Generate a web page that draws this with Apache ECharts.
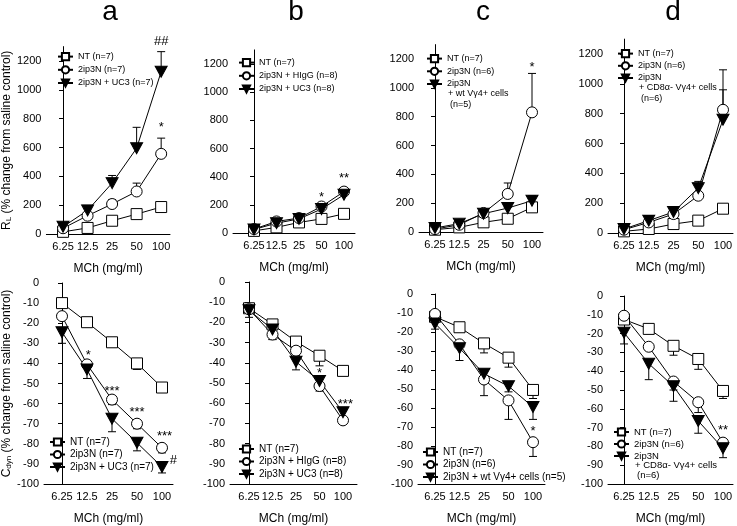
<!DOCTYPE html>
<html>
<head>
<meta charset="utf-8">
<script src="https://cdn.jsdelivr.net/npm/echarts@6/dist/echarts.min.js"></script>
<style>
  html, body { margin: 0; background: #fff; }
  #chart { width: 737px; height: 526px; }
</style>
</head>
<body>
<div id="chart"></div>
<script>
// dose categories (MCh, mg/ml)
var doses = ['6.25', '12.5', '25', '50', '100'];
var rlTicks = [0, 200, 400, 600, 800, 1000, 1200];
var cdynTicks = [0, -10, -20, -30, -40, -50, -60, -70, -80, -90, -100];

// ---- R_L panels (top row), mean and top of error bar ----
var rlA_nt = [15, 42, 92, 138, 187];       var rlA_ntErr = [18, 46, 98, 145, 195];
var rlA_ip = [40, 127, 208, 295, 556];     var rlA_ipErr = [50, 140, 238, 353, 665];
var rlA_uc = [50, 164, 353, 595, 1126];    var rlA_ucErr = [60, 175, 406, 740, 1265];
var rlA_marks = [[4, 740, '*'], [4, 1335, '##']];

var rlB_nt = [15, 40, 75, 100, 136];       var rlB_ntErr = [18, 44, 80, 106, 142];
var rlB_ig = [28, 82, 106, 188, 294];      var rlB_igErr = [32, 90, 115, 200, 322];
var rlB_uc = [25, 70, 100, 170, 272];      var rlB_ucErr = [30, 78, 108, 180, 300];
var rlB_marks = [[3, 254, '*'], [4, 390, '**']];

var rlC_nt = [16, 32, 67, 92, 171];        var rlC_ntErr = [20, 36, 72, 98, 180];
var rlC_ip = [20, 50, 132, 264, 830];      var rlC_ipErr = [24, 56, 140, 340, 1100];
var rlC_wt = [28, 58, 127, 166, 217];      var rlC_wtErr = [32, 64, 135, 172, 252];
var rlC_marks = [[4, 1140, '*']];

var rlD_nt = [11, 27, 60, 83, 163];        var rlD_ntErr = [14, 30, 64, 88, 170];
var rlD_ip = [22, 71, 127, 250, 826];      var rlD_ipErr = [28, 80, 150, 330, 1094];
var rlD_cd = [27, 83, 141, 301, 759];      var rlD_cdErr = [32, 90, 167, 346, 960];
var rlD_marks = [];

// ---- Cdyn panels (bottom row), mean and bottom of error bar ----
var cdA_nt = [-10, -19.5, -29.5, -40, -52];     var cdA_ntErr = [-11, -21, -31.5, -43, -53.5];
var cdA_ip = [-16.5, -40.5, -58, -70, -82];     var cdA_ipErr = [-18, -42, -60.5, -72.5, -84.5];
var cdA_uc = [-24.5, -43, -67.5, -79.5, -91.5]; var cdA_ucErr = [-30, -47.5, -74, -83.5, -94.5];
var cdA_marks = [[1.05, -36, '*'], [2, -54, '***'], [3, -64.5, '***'], [4.1, -76.5, '***'], [4.45, -88.5, '#']];

var cdB_nt = [-13, -21, -29.5, -36.5, -44];     var cdB_ntErr = [-14, -22.5, -31, -41.5, -46];
var cdB_ig = [-13.5, -26, -34, -51.5, -68.5];   var cdB_igErr = [-15, -28.5, -36, -54, -70.5];
var cdB_uc = [-14, -23.5, -39.5, -49, -64.5];   var cdB_ucErr = [-17.5, -28.5, -43.5, -53, -67];
var cdB_marks = [[3, -45.5, '*'], [4.1, -60.5, '***']];

var cdC_nt = [-12, -17.5, -26, -33.5, -50.5];   var cdC_ntErr = [-14, -19, -31, -38.5, -55];
var cdC_ip = [-10.5, -26.5, -45, -56, -78];     var cdC_ipErr = [-12, -28, -53.5, -66, -85.5];
var cdC_wt = [-15.5, -28.5, -42, -48.5, -59.5]; var cdC_wtErr = [-18.5, -35, -44, -51.5, -66];
var cdC_marks = [[4, -72.5, '*']];

var cdD_nt = [-12.5, -17.5, -26.5, -33.5, -50.5]; var cdD_ntErr = [-14, -19.5, -31.5, -39, -54.5];
var cdD_ip = [-10.5, -27, -45.5, -56.5, -78];     var cdD_ipErr = [-12, -29, -50, -62, -80];
var cdD_cd = [-19.5, -36, -48, -66.5, -81];       var cdD_cdErr = [-25.5, -44.5, -56, -73, -86];
var cdD_marks = [[4, -71.5, '**']];

var FONT = 'Liberation Sans, Arial, sans-serif';

// panel frames: y-axis x, x-axis end, first/last dose x, y of top and bottom of axis
var frames = [
  { ax0: 44,  ax1: 170, c0: 61,  c4: 161, top: 46.6, bot: 234 },
  { ax0: 233, ax1: 355, c0: 254, c4: 344, top: 49.9, bot: 233 },
  { ax0: 419, ax1: 543, c0: 435, c4: 532, top: 44.6, bot: 232 },
  { ax0: 608, ax1: 733, c0: 624, c4: 723, top: 39.1, bot: 233 },
  { ax0: 44,  ax1: 173, c0: 62,  c4: 162, top: 283,  bot: 490 },
  { ax0: 230, ax1: 357, c0: 249, c4: 343, top: 282,  bot: 489 },
  { ax0: 418, ax1: 545, c0: 435, c4: 533, top: 294,  bot: 489 },
  { ax0: 608, ax1: 733, c0: 624, c4: 723, top: 296,  bot: 488 }
];

var grids = [], xAxes = [], yAxes = [];
frames.forEach(function (f, i) {
  var step = (f.c4 - f.c0) / 4;
  var isTop = i < 4;
  grids.push({ left: f.ax0, width: f.ax1 - f.ax0, top: f.top, height: f.bot - f.top });
  xAxes.push({
    gridIndex: i, type: 'value',
    min: -(f.c0 - f.ax0) / step, max: 4 + (f.ax1 - f.c4) / step,
    name: 'MCh (mg/ml)', nameLocation: 'middle', nameGap: 29,
    nameTextStyle: { fontSize: 12, color: '#000', fontFamily: FONT },
    axisLine: { onZero: false, lineStyle: { color: '#000', width: 1 } },
    axisTick: { show: false },
    splitLine: { show: false },
    axisLabel: {
      customValues: [0, 1, 2, 3, 4], margin: 7, fontSize: 11, color: '#000', fontFamily: FONT,
      formatter: function (v) { return doses[Math.round(v)]; }
    }
  });
  var ticks = isTop ? rlTicks : cdynTicks;
  var y = {
    gridIndex: i, type: 'value',
    min: isTop ? 0 : -100, max: isTop ? 1300 : 0,
    axisLine: { show: true, lineStyle: { color: '#000', width: 1 } },
    axisTick: { show: true, length: 4, customValues: ticks, lineStyle: { color: '#000' } },
    splitLine: { show: false },
    axisLabel: { customValues: ticks, margin: 5, fontSize: 11, color: '#000', fontFamily: FONT,
      formatter: function (v) { return String(v); } }
  };
  if (i === 0 || i === 4) {
    y.name = isTop ? 'R{sub|L} (% change from saline control)' : 'C{sub|dyn} (% change from saline control)';
    y.nameLocation = 'middle';
    y.nameRotate = 90;
    y.nameGap = 30;
    y.nameTextStyle = { fontSize: 12, color: '#000', fontFamily: FONT,
      rich: { sub: { fontSize: 8, fontFamily: FONT, color: '#000', padding: [4, 0, 0, 0] } } };
  }
  yAxes.push(y);
});

function lineSeries(name, ax, vals, kind) {
  return {
    type: 'line', name: name, xAxisIndex: ax, yAxisIndex: ax,
    data: vals.map(function (v, i) { return [i, v]; }),
    symbol: kind === 'sq' ? 'rect' : (kind === 'ci' ? 'circle' : 'triangle'),
    symbolSize: kind === 'tri' ? [12, 11] : 11,
    symbolRotate: kind === 'tri' ? 180 : 0,
    showAllSymbol: true, animation: false, z: 3,
    lineStyle: { color: '#000', width: 1 },
    itemStyle: { color: kind === 'tri' ? '#000' : '#fff', borderColor: '#000', borderWidth: 1 },
    emphasis: { disabled: true }
  };
}

function errSeries(ax, vals, ends) {
  return {
    type: 'custom', xAxisIndex: ax, yAxisIndex: ax, silent: true, clip: false, z: 2,
    data: vals.map(function (v, i) { return [i, v, ends[i]]; }),
    encode: { x: 0, y: [1, 2] },
    renderItem: function (params, api) {
      var p0 = api.coord([api.value(0), api.value(1)]);
      var p1 = api.coord([api.value(0), api.value(2)]);
      var st = { stroke: '#000', lineWidth: 1 };
      return { type: 'group', children: [
        { type: 'line', shape: { x1: p0[0], y1: p0[1], x2: p1[0], y2: p1[1] }, style: st },
        { type: 'line', shape: { x1: p1[0] - 4, y1: p1[1], x2: p1[0] + 4, y2: p1[1] }, style: st }
      ] };
    }
  };
}

function markSeries(ax, marks) {
  return {
    type: 'custom', xAxisIndex: ax, yAxisIndex: ax, silent: true, clip: false, z: 4,
    data: marks.map(function (m) { return [m[0], m[1]]; }),
    renderItem: function (params, api) {
      var p = api.coord([api.value(0), api.value(1)]);
      return { type: 'text', x: p[0], y: p[1], style: {
        text: marks[params.dataIndex][2], fill: '#000', font: '13px ' + FONT,
        textAlign: 'center', textVerticalAlign: 'middle' } };
    }
  };
}

var NT = 'NT (n=7)';
var wtMore = ['+ wt V\u03b34+ cells', '(n=5)'];
var cd8More = ['+ CD8\u03b1- V\u03b34+ cells', '(n=6)'];
var panels = [
  [[NT, rlA_nt, rlA_ntErr, 'sq'], ['2ip3N (n=7)', rlA_ip, rlA_ipErr, 'ci'], ['2ip3N + UC3 (n=7)', rlA_uc, rlA_ucErr, 'tri'], rlA_marks, null],
  [[NT, rlB_nt, rlB_ntErr, 'sq'], ['2ip3N + HIgG (n=8)', rlB_ig, rlB_igErr, 'ci'], ['2ip3N + UC3 (n=8)', rlB_uc, rlB_ucErr, 'tri'], rlB_marks, null],
  [[NT, rlC_nt, rlC_ntErr, 'sq'], ['2ip3N (n=6)', rlC_ip, rlC_ipErr, 'ci'], ['2ip3N', rlC_wt, rlC_wtErr, 'tri'], rlC_marks, wtMore],
  [[NT, rlD_nt, rlD_ntErr, 'sq'], ['2ip3N (n=6)', rlD_ip, rlD_ipErr, 'ci'], ['2ip3N', rlD_cd, rlD_cdErr, 'tri'], rlD_marks, cd8More],
  [[NT, cdA_nt, cdA_ntErr, 'sq'], ['2ip3N (n=7)', cdA_ip, cdA_ipErr, 'ci'], ['2ip3N + UC3 (n=7)', cdA_uc, cdA_ucErr, 'tri'], cdA_marks, null],
  [[NT, cdB_nt, cdB_ntErr, 'sq'], ['2ip3N + HIgG (n=8)', cdB_ig, cdB_igErr, 'ci'], ['2ip3N + UC3 (n=8)', cdB_uc, cdB_ucErr, 'tri'], cdB_marks, null],
  [[NT, cdC_nt, cdC_ntErr, 'sq'], ['2ip3N (n=6)', cdC_ip, cdC_ipErr, 'ci'], ['2ip3N + wt V\u03b34+ cells (n=5)', cdC_wt, cdC_wtErr, 'tri'], cdC_marks, null],
  [[NT, cdD_nt, cdD_ntErr, 'sq'], ['2ip3N (n=6)', cdD_ip, cdD_ipErr, 'ci'], ['2ip3N', cdD_cd, cdD_cdErr, 'tri'], cdD_marks, cd8More]
];
// legend left, top, font size, gap between rows
var legendPos = [[57, 52, 9, 4], [238, 58, 9, 4], [426, 54, 9, 3.5], [617, 49, 9, 3],
                 [49, 437, 10, 2.5], [238, 444, 10, 2.5], [422, 447, 10, 2.5], [613, 427, 9.5, 2]];

var series = [], legends = [], extraText = [];
panels.forEach(function (p, ax) {
  for (var k = 0; k < 3; k++) series.push(errSeries(ax, p[k][1], p[k][2]));
  for (k = 0; k < 3; k++) series.push(lineSeries(p[k][0], ax, p[k][1], p[k][3]));
  series.push(markSeries(ax, p[3]));
  var lp = legendPos[ax];
  legends.push({
    orient: 'vertical', left: lp[0], top: lp[1],
    itemWidth: 15, itemHeight: 9, itemGap: lp[3], padding: 0, selectedMode: false,
    textStyle: { fontSize: lp[2], color: '#000', fontFamily: FONT },
    data: [p[0][0], p[1][0], p[2][0]]
  });
  if (p[4]) {
    var rowH = Math.max(9, lp[2]) + lp[3];
    var y3 = lp[1] + 2 * rowH + Math.max(9, lp[2]) / 2;
    p[4].forEach(function (t, j) {
      extraText.push({ type: 'text', x: lp[0] + 22 + j * 2, y: y3 + (j + 1) * 10.5,
        style: { text: t, font: lp[2] + 'px ' + FONT, fill: '#000', textVerticalAlign: 'middle' } });
    });
  }
});

var letters = [['a', 110], ['b', 296], ['c', 483], ['d', 673]];

var chart = echarts.init(document.getElementById('chart'));
chart.setOption({
  animation: false,
  backgroundColor: '#fff',
  grid: grids, xAxis: xAxes, yAxis: yAxes,
  legend: legends,
  series: series,
  graphic: letters.map(function (l) {
    return { type: 'text', x: l[1], y: 12, style: { text: l[0], font: '28px ' + FONT,
      fill: '#000', textAlign: 'center', textVerticalAlign: 'middle' } };
  }).concat(extraText)
});
</script>
</body>
</html>
